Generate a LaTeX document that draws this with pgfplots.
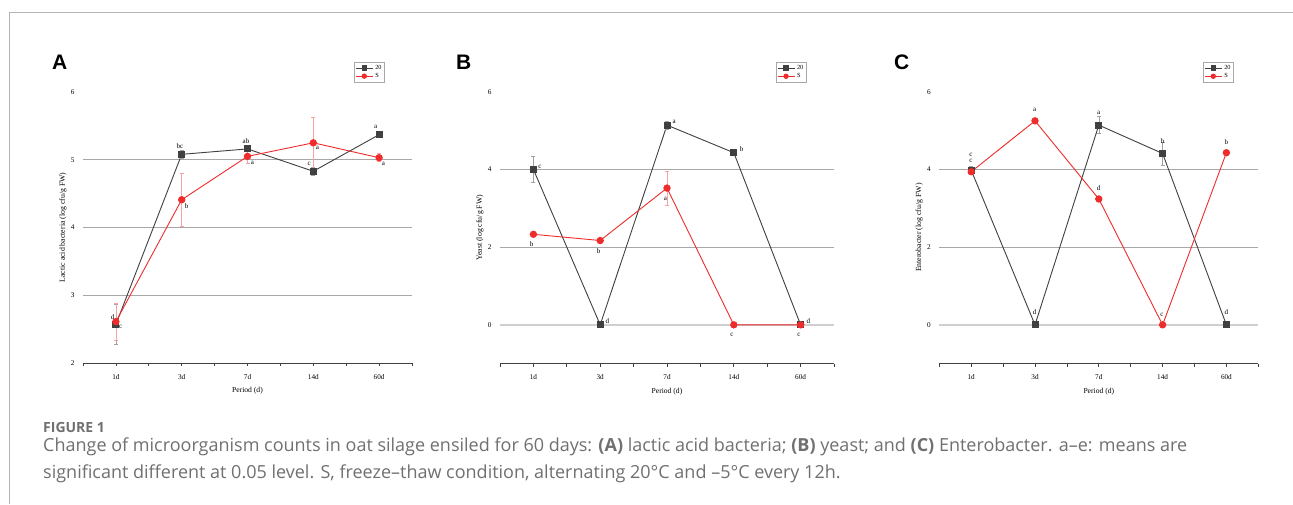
\documentclass[border=0pt]{standalone}
\usepackage{fontspec}
\setmainfont{Liberation Serif}
\newfontfamily\capfont{Open Sans}
\newfontfamily\letfont{Liberation Sans}
\usepackage{pgfplots}
\pgfplotsset{compat=1.18}
\definecolor{dk}{HTML}{404040}
\definecolor{rd}{HTML}{EE2C2C}
\definecolor{grd}{HTML}{A8A8A8}
\definecolor{zgr}{HTML}{CFCFCF}
\definecolor{epink}{HTML}{F5A3A3}
\definecolor{egray}{HTML}{A0A0A0}
\definecolor{capgray}{HTML}{707070}
\definecolor{bordergray}{HTML}{B4B4B4}
\tikzset{lab/.style={font=\fontsize{7}{8}\selectfont, inner sep=0pt, anchor=center}}
\pgfplotsset{
  panel/.style={
    scale only axis,
    xmin=-0.5, xmax=4.5,
    axis x line*=bottom, axis y line*=left,
    x axis line style={-, draw=dk, line width=1pt},
    y axis line style={draw=none},
    xtick={0,...,4}, xticklabels={1d,3d,7d,14d,60d},
    minor xtick={-0.5,0.5,1.5,2.5,3.5,4.5},
    tick align=outside, major tick length=3pt, minor tick length=3pt,
    every tick/.style={dk, line width=0.8pt},
    ytick style={draw=none},
    extra y tick style={tick style={draw=none}, grid=major, major grid style={grd, line width=0.9pt}},
    tick label style={font=\fontsize{7.2}{8}\selectfont},
    yticklabel style={xshift=-2pt},
    xticklabel style={yshift=-4.5pt},
    /pgf/number format/assume math mode=true,
    clip=false,
    every axis y label/.style={at={([xshift=-20pt]axis description cs:0,0.5)}, anchor=center, rotate=90, font=\fontsize{7.8}{8}\selectfont},
    every axis x label/.style={at={([yshift=-27.5pt]axis description cs:0.5,0)}, anchor=center, font=\fontsize{7.6}{8}\selectfont},
    xlabel={Period (d)},
    legend style={anchor=north west, draw=grd, fill=white, font=\fontsize{6.3}{6.3}\selectfont, inner sep=1pt, row sep=-1.5pt, cells={anchor=west}},
    legend image post style={mark size=2.2pt},
  },
  s20/.style={color=dk, line width=0.9pt, mark=square*, mark size=3pt, mark options={solid, fill=dk},
    error bars/.cd, y dir=both, y explicit,
    error bar style={egray, line width=0.6pt},
    error mark options={rotate=90, egray, mark size=2pt, line width=0.6pt}},
  sS/.style={color=rd, line width=0.9pt, mark=*, mark size=3.2pt, mark options={solid, fill=rd},
    error bars/.cd, y dir=both, y explicit,
    error bar style={epink, line width=0.6pt},
    error mark options={rotate=90, epink, mark size=2pt, line width=0.6pt}},
}
\begin{document}
\begin{tikzpicture}
\useasboundingbox (0,0) rectangle (1293pt,504pt);
\fill[white] (0,0) rectangle (1293pt,504pt);
\draw[bordergray, line width=1.3pt] (9.3pt,0) -- (9.3pt,491.7pt) -- (1293pt,491.7pt);

% Panel A
\begin{axis}[panel, at={(83pt,141pt)}, anchor=south west, width=329pt, height=271pt,
  ymin=2, ymax=6, ytick={2,6}, extra y ticks={3,4,5},
  ylabel={Lactic acid bacteria (log cfu/g FW)},
  legend style={at={(0.824,1.111)}}]
\addplot[s20] coordinates {(0,2.57) +- (0,0.30) (1,5.08) +- (0,0.06) (2,5.16) +- (0,0.04) (3,4.83) +- (0,0.06) (4,5.37) +- (0,0.03)};
\addplot[sS] coordinates {(0,2.61) +- (0,0.27) (1,4.41) +- (0,0.39) (2,5.05) +- (0,0.10) (3,5.25) +- (0,0.37) (4,5.03) +- (0,0.06)};
\legend{20,S}
\node[lab] at (axis cs:-0.049,2.68) {d};
\node[lab] at (axis cs:0.073,2.53) {c};
\node[lab] at (axis cs:0.974,5.20) {bc};
\node[lab] at (axis cs:1.076,4.32) {b};
\node[lab] at (axis cs:1.977,5.28) {ab};
\node[lab] at (axis cs:2.073,4.96) {a};
\node[lab] at (axis cs:2.939,4.94) {c};
\node[lab] at (axis cs:3.061,5.17) {a};
\node[lab] at (axis cs:3.948,5.49) {a};
\node[lab] at (axis cs:4.064,4.94) {a};
\end{axis}

% Panel B
\begin{axis}[panel, at={(500pt,140.3pt)}, anchor=south west, width=334pt, height=272pt,
  ymin=-1, ymax=6, ytick={0,6}, extra y ticks={2,4},
  ylabel={Yeast (log cfu/g FW)},
  legend style={at={(0.826,1.109)}}]
\addplot[zgr, line width=1.6pt, forget plot] coordinates {(-0.5,0) (4.5,0)};
\addplot[s20] coordinates {(0,4.00) +- (0,0.33) (1,0) +- (0,0) (2,5.14) +- (0,0.10) (3,4.43) +- (0,0.06) (4,0) +- (0,0)};
\addplot[sS] coordinates {(0,2.33) +- (0,0.03) (1,2.17) +- (0,0.03) (2,3.52) +- (0,0.44) (3,0) +- (0,0) (4,0) +- (0,0)};
\legend{20,S}
\node[lab] at (axis cs:0.099,4.07) {c};
\node[lab] at (axis cs:1.106,0.085) {d};
\node[lab] at (axis cs:2.109,5.23) {a};
\node[lab] at (axis cs:3.118,4.52) {b};
\node[lab] at (axis cs:4.115,0.085) {d};
\node[lab] at (axis cs:-0.026,2.08) {b};
\node[lab] at (axis cs:0.978,1.90) {b};
\node[lab] at (axis cs:1.975,3.24) {a};
\node[lab] at (axis cs:2.973,-0.27) {c};
\node[lab] at (axis cs:3.976,-0.27) {c};
\end{axis}

% Panel C
\begin{axis}[panel, at={(939.3pt,140.3pt)}, anchor=south west, width=319pt, height=272pt,
  ymin=-1, ymax=6, ytick={0,6}, extra y ticks={2,4},
  ylabel={Enterobacter (log cfu/g FW)},
  legend style={at={(0.827,1.109)}}]
\addplot[zgr, line width=1.6pt, forget plot] coordinates {(-0.5,0) (4.5,0)};
\addplot[s20] coordinates {(0,3.98) +- (0,0.10) (1,0) +- (0,0) (2,5.14) +- (0,0.22) (3,4.41) +- (0,0.30) (4,0) +- (0,0)};
\addplot[sS] coordinates {(0,3.94) +- (0,0.05) (1,5.25) +- (0,0.04) (2,3.24) +- (0,0.04) (3,0) +- (0,0) (4,4.43) +- (0,0.04)};
\legend{20,S}
\node[lab] at (axis cs:-0.003,4.37) {c};
\node[lab] at (axis cs:-0.003,4.22) {c};
\node[lab] at (axis cs:0.995,5.52) {a};
\node[lab] at (axis cs:0.995,0.33) {d};
\node[lab] at (axis cs:1.998,5.46) {a};
\node[lab] at (axis cs:1.998,3.52) {d};
\node[lab] at (axis cs:3.0,4.74) {b};
\node[lab] at (axis cs:2.99,0.26) {c};
\node[lab] at (axis cs:4.0,4.70) {b};
\node[lab] at (axis cs:4.0,0.33) {d};
\end{axis}

% Panel letters
\node[anchor=base west, inner sep=0pt, font=\letfont\bfseries\fontsize{21}{21}\selectfont] at (52pt,434pt) {A};
\node[anchor=base west, inner sep=0pt, font=\letfont\bfseries\fontsize{21}{21}\selectfont] at (456pt,434pt) {B};
\node[anchor=base west, inner sep=0pt, font=\letfont\bfseries\fontsize{21}{21}\selectfont] at (894pt,434pt) {C};

% Caption
\node[anchor=base west, inner sep=0pt, text=capgray, font=\capfont\bfseries\fontsize{14}{16}\selectfont] at (43pt,71.7pt) {FIGURE 1};
\node[anchor=base west, inner sep=0pt, text=capgray, font=\capfont\fontsize{18}{20}\selectfont] at (43pt,52.3pt) {Change of microorganism counts in oat silage ensiled for 60 days: \textbf{(A)} lactic acid bacteria; \textbf{(B)} yeast; and \textbf{(C)} Enterobacter. a–e: means are};
\node[anchor=base west, inner sep=0pt, text=capgray, font=\capfont\fontsize{18}{20}\selectfont] at (43pt,25.7pt) {significant different at 0.05 level. S, freeze–thaw condition, alternating 20°C and –5°C every 12h.};
\end{tikzpicture}
\end{document}
